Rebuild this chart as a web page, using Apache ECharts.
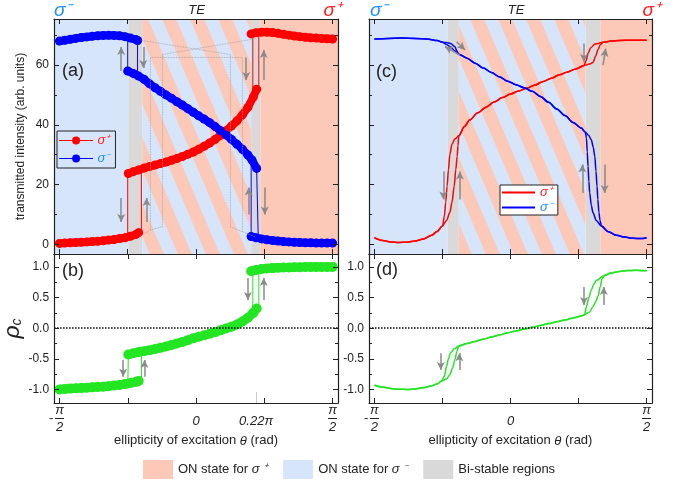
<!DOCTYPE html>
<html><head><meta charset="utf-8">
<script src="https://cdn.jsdelivr.net/npm/echarts@6/dist/echarts.min.js"></script>
<style>html,body{margin:0;padding:0;background:#fff}#c{width:693px;height:482px}</style>
</head><body><div id="c"></div>
<script>
// ---------- data (x in units of pi: theta/pi) ----------
// panel (a): transmitted intensity, measured dots
const aRedLow = [[-0.50,0.3],[-0.48,0.4],[-0.46,0.5],[-0.44,0.6],[-0.42,0.7],[-0.40,0.8],[-0.38,0.9],[-0.36,1.0],[-0.34,1.2],[-0.32,1.4],[-0.30,1.6],[-0.28,1.9],[-0.26,2.2],[-0.24,2.7],[-0.22,3.3],[-0.21,3.9]];
const aRedMid = [[-0.248,23.7],[-0.23,24.3],[-0.21,24.9],[-0.19,25.5],[-0.17,26.0],[-0.15,26.5],[-0.13,27.0],[-0.11,27.5],[-0.09,28.1],[-0.07,28.7],[-0.05,29.4],[-0.03,30.1],[-0.01,30.9],[0.01,31.8],[0.03,32.8],[0.05,33.9],[0.07,35.1],[0.09,36.5],[0.11,38.0],[0.13,39.6],[0.15,41.3],[0.17,43.3],[0.19,45.8],[0.21,49.3],[0.222,51.9]];
const aRedTop = [[0.202,70.4],[0.22,70.8],[0.24,71.0],[0.26,71.0],[0.28,70.9],[0.30,70.6],[0.32,70.3],[0.34,70.0],[0.36,69.7],[0.38,69.5],[0.40,69.3],[0.42,69.1],[0.44,69.0],[0.46,68.9],[0.48,68.8],[0.50,68.7]];
const aBlueTop = [[-0.50,68.0],[-0.48,68.3],[-0.46,68.6],[-0.44,68.9],[-0.42,69.2],[-0.40,69.4],[-0.38,69.6],[-0.36,69.8],[-0.34,69.9],[-0.32,70.0],[-0.30,69.9],[-0.28,69.8],[-0.26,69.5],[-0.24,69.0],[-0.22,68.5],[-0.214,68.2]];
const aBlueMid = [[-0.25,58.0],[-0.23,57.2],[-0.21,56.3],[-0.19,55.2],[-0.17,53.7],[-0.15,52.4],[-0.13,51.2],[-0.11,50.0],[-0.09,48.9],[-0.07,47.7],[-0.05,46.6],[-0.03,45.4],[-0.01,44.2],[0.01,43.0],[0.03,41.9],[0.05,40.7],[0.07,39.4],[0.09,38.0],[0.11,36.6],[0.13,35.1],[0.15,33.5],[0.17,31.8],[0.19,29.9],[0.205,28.2],[0.222,25.4]];
const aBlueLow = [[0.202,2.6],[0.22,2.2],[0.24,1.8],[0.26,1.5],[0.28,1.3],[0.30,1.1],[0.32,0.9],[0.34,0.8],[0.36,0.7],[0.38,0.6],[0.40,0.5],[0.42,0.5],[0.44,0.4],[0.46,0.4],[0.48,0.4],[0.50,0.4]];
const aRedJumps = [[[-0.25,2.4],[-0.25,23.7]],[[-0.2,3.9],[-0.2,25.2]],[[0.208,49.8],[0.208,70.5]],[[0.23,52.0],[0.23,71.0]]];
const aBlueJumps = [[[-0.25,58.0],[-0.25,69.3]],[[-0.214,68.2],[-0.214,56.5]],[[0.202,2.6],[0.202,28.0]],[[0.228,2.0],[0.222,25.4]]];
// panel (b): circular polarization degree, measured dots
const bLow = [[-0.50,-1.0],[-0.48,-0.99],[-0.46,-0.985],[-0.44,-0.98],[-0.42,-0.975],[-0.40,-0.97],[-0.38,-0.965],[-0.36,-0.96],[-0.34,-0.955],[-0.32,-0.945],[-0.30,-0.935],[-0.28,-0.925],[-0.26,-0.91],[-0.24,-0.895],[-0.22,-0.875],[-0.21,-0.86]];
const bMid = [[-0.248,-0.43],[-0.23,-0.41],[-0.21,-0.39],[-0.19,-0.375],[-0.17,-0.36],[-0.15,-0.34],[-0.13,-0.32],[-0.11,-0.30],[-0.09,-0.275],[-0.07,-0.25],[-0.05,-0.225],[-0.03,-0.195],[-0.01,-0.165],[0.01,-0.14],[0.03,-0.115],[0.05,-0.09],[0.07,-0.065],[0.09,-0.035],[0.11,-0.005],[0.13,0.025],[0.15,0.06],[0.17,0.11],[0.19,0.17],[0.21,0.25],[0.222,0.32]];
const bTop = [[0.202,0.93],[0.22,0.95],[0.24,0.965],[0.26,0.975],[0.28,0.98],[0.30,0.985],[0.32,0.99],[0.34,0.99],[0.36,0.995],[0.38,0.995],[0.40,1.0],[0.42,1.0],[0.44,1.0],[0.46,1.0],[0.48,1.0],[0.50,1.0]];
const bJumps = [[[-0.25,-0.93],[-0.248,-0.43]],[[-0.2,-0.86],[-0.2,-0.38]],[[0.208,0.25],[0.208,0.93]],[[0.23,0.32],[0.23,0.95]]];
// panel (c): calculated intensity curves
const cRedL = [[-0.50,2.2],[-0.47,1.3],[-0.44,0.8],[-0.41,0.6],[-0.38,0.7],[-0.35,1.1],[-0.32,1.8],[-0.29,3.0],[-0.27,4.3],[-0.25,6.1]];
const cRedBiLEarly = [[-0.243,9.5],[-0.238,14],[-0.233,19.4],[-0.228,25],[-0.223,30],[-0.215,33.5],[-0.205,35.2]];
const cRedBiLLate = [[-0.235,8],[-0.223,10.6],[-0.215,14],[-0.207,19.4],[-0.201,25],[-0.196,29.4],[-0.193,33]];
const cRedMid = [[-0.19,36.3],[-0.17,39.3],[-0.15,41.6],[-0.12,44.0],[-0.09,45.9],[-0.06,47.6],[-0.03,49.1],[0.00,50.3],[0.03,51.3],[0.06,52.2],[0.09,53.3],[0.12,54.5],[0.15,55.6],[0.18,56.7],[0.21,57.7],[0.24,58.7],[0.27,59.8]];
const cRedBiREarly = [[0.278,61.5],[0.285,63.9],[0.295,65.8],[0.31,67.0]];
const cRedBiRLate = [[0.29,60.3],[0.303,60.8],[0.313,63.0],[0.322,65.3],[0.33,66.8]];
const cRedR = [[0.34,67.6],[0.37,68.0],[0.40,68.2],[0.45,68.3],[0.50,68.3]];
const cBlueL = [[-0.50,68.7],[-0.45,68.9],[-0.40,69.0],[-0.35,68.9],[-0.30,68.6],[-0.27,68.2],[-0.25,67.6]];
const cBlueBiLEarly = [[-0.235,66.9],[-0.22,66.0],[-0.205,64.8]];
const cBlueBiLLate = [[-0.235,67.5],[-0.22,67.2],[-0.205,66.2],[-0.196,64.6]];
const cBlueMid = [[-0.19,63.6],[-0.16,62.3],[-0.13,60.6],[-0.10,59.0],[-0.07,57.5],[-0.04,56.0],[-0.01,54.6],[0.02,53.4],[0.05,52.4],[0.08,51.2],[0.11,49.5],[0.14,47.5],[0.17,45.3],[0.20,43.1],[0.23,40.8],[0.26,38.9],[0.275,37.5]];
const cBlueBiREarly = [[0.279,35.5],[0.282,31],[0.285,26.1],[0.288,21],[0.291,17.2],[0.297,13],[0.303,10.6],[0.315,8]];
const cBlueBiRLate = [[0.287,36.5],[0.297,35],[0.304,32.5],[0.31,29.4],[0.314,24.5],[0.318,19.4],[0.321,15],[0.325,10.6],[0.329,8]];
const cBlueR = [[0.334,6.1],[0.36,4.2],[0.39,3.0],[0.42,2.4],[0.45,2.0],[0.48,1.9],[0.50,2.2]];
// panel (d): calculated polarization degree
const dGreenL = [[-0.50,-0.93],[-0.47,-0.96],[-0.44,-0.985],[-0.41,-0.995],[-0.38,-1.0],[-0.35,-0.99],[-0.32,-0.97],[-0.29,-0.94],[-0.27,-0.91],[-0.253,-0.86]];
const dGreenBiLEarly = [[-0.243,-0.78],[-0.235,-0.62],[-0.228,-0.5],[-0.22,-0.4],[-0.205,-0.33]];
const dGreenBiLLate = [[-0.235,-0.83],[-0.223,-0.76],[-0.213,-0.65],[-0.204,-0.51],[-0.197,-0.38]];
const dGreenMid = [[-0.19,-0.29],[-0.16,-0.25],[-0.13,-0.215],[-0.10,-0.18],[-0.07,-0.145],[-0.04,-0.11],[-0.01,-0.075],[0.02,-0.045],[0.05,-0.015],[0.08,0.015],[0.11,0.045],[0.14,0.075],[0.17,0.105],[0.20,0.135],[0.23,0.165],[0.26,0.2],[0.272,0.22]];
const dGreenBiREarly = [[0.279,0.35],[0.288,0.5],[0.297,0.62],[0.306,0.72],[0.316,0.78]];
const dGreenBiRLate = [[0.29,0.26],[0.303,0.35],[0.313,0.43],[0.322,0.53],[0.33,0.68],[0.336,0.8]];
const dGreenR = [[0.345,0.86],[0.37,0.9],[0.40,0.925],[0.43,0.94],[0.46,0.945],[0.50,0.935]];
// background regions (theta/pi)
const aBlueRegion = [[-0.52,-0.248]], aGrayRegions = [[-0.248,-0.197],[0.202,0.236]], aStripeRegion = [[-0.197,0.202]], aSalmonRegion = [[0.236,0.52]];
const cBlueRegion = [[-0.52,-0.231]], cGrayRegions = [[-0.231,-0.19],[0.276,0.331]], cStripeRegion = [[-0.19,0.276]], cSalmonRegion = [[0.331,0.52]];
// annotation arrows [from, to]
const aArrows = [[[-0.274,58],[-0.274,66]],[[-0.193,66],[-0.193,59]],[[-0.274,15.5],[-0.274,7.5]],[[-0.181,7.5],[-0.181,15.5]],[[0.184,62.5],[0.184,55]],[[0.248,55],[0.248,65]],[[0.193,10],[0.193,19]],[[0.252,19],[0.252,10]]];
const bArrows = [[[-0.267,-0.52],[-0.267,-0.79]],[[-0.189,-0.79],[-0.189,-0.52]],[[0.19,0.82],[0.19,0.46]],[[0.248,0.46],[0.248,0.82]]];
const cArrows = [[[-0.186,63.3],[-0.241,66.2]],[[-0.198,67.8],[-0.167,65]],[[0.27,67.2],[0.27,61]],[[0.34,60],[0.35,65.5]],[[-0.247,24.4],[-0.247,15]],[[-0.186,15],[-0.186,24.4]],[[0.264,17.2],[0.264,26.7]],[[0.346,26.7],[0.346,17.2]]];
const dArrows = [[[-0.256,-0.41],[-0.256,-0.68]],[[-0.188,-0.68],[-0.188,-0.41]],[[0.27,0.67],[0.27,0.38]],[[0.343,0.38],[0.343,0.67]]];
// dotted guide lines in (a)
const aGuides = [[[-0.167,4.8],[-0.167,62.5]],[[-0.124,5.9],[-0.124,63.5]],[[0.126,5.9],[0.126,63.5]],[[0.169,4.2],[0.169,62.5]],
  [[-0.203,2.8],[-0.167,4.8]],[[-0.167,4.8],[-0.124,5.9]],[[0.126,5.9],[0.169,4.2]],[[0.169,4.2],[0.218,2.5]],
  [[-0.203,68.3],[0.126,63.5]],[[-0.167,62.5],[0.169,62.5]],[[-0.124,63.5],[0.218,68.8]]];
// axis ticks / labels
const xTicks = [-0.5,-0.25,0,0.25,0.5];
const bXLabels = [-0.5,0,0.22,0.5], dXLabels = [-0.5,0,0.5];
const intMajor = [0,20,40,60], intMinor = [10,30,50,70];
const rhoMajor = [-1,-0.5,0,0.5,1], rhoMinor = [-0.75,-0.25,0.25,0.75];
const intRange = [-3.25,75.4], rhoRange = [-1.22,1.21];

// ---------- styling ----------
const FONT = 'Liberation Sans, Arial, Helvetica, sans-serif';
const INK = '#222';
const SALMON = '#fcc8b8', LBLUE = '#d7e5fb', GRAY = '#d9d9d9';
const RED = '#ff0000', BLUE = '#0000ff', GREEN = '#22e622', ARROW = '#8a8a8a';
const SIGP = '#ff2020', SIGM = '#1e90ff';

const pat = document.createElement('canvas');
pat.width = 28; pat.height = 66;
(function(){const g = pat.getContext('2d'); g.fillStyle = SALMON; g.fillRect(0,0,28,66); g.fillStyle = LBLUE;
  for (let k=-2;k<=1;k++){ g.beginPath(); g.moveTo(k*28,0); g.lineTo(k*28+14,0); g.lineTo(k*28+42,66); g.lineTo(k*28+28,66); g.closePath(); g.fill(); }})();
const STRIPES = {image: pat, repeat: 'repeat'};

const grids = [
  {left:54, top:19, width:284, height:235},
  {left:54, top:254, width:284, height:149},
  {left:369, top:19, width:283, height:235},
  {left:369, top:254, width:283, height:149}
];

const xRich = {
  n:{fontSize:13, fontStyle:'italic', fontFamily:FONT, color:INK, lineHeight:12, width:9, align:'center'},
  bar:{width:9, height:1, lineHeight:5, backgroundColor:INK, fontSize:5},
  m:{fontSize:13, fontFamily:FONT, color:INK, lineHeight:5, width:6, align:'left'},
  sp:{width:6, lineHeight:5, fontSize:5},
  z:{fontSize:13, fontStyle:'italic', fontFamily:FONT, color:INK, lineHeight:34}
};
function xFmt(v){
  if (v < -0.4) return '{sp| }{n|π}{sp| }\n{m|-}{bar| }{sp| }\n{sp| }{n|2}{sp| }';
  if (v > 0.4) return '{n|π}\n{bar| }\n{n|2}';
  if (Math.abs(v) < 1e-9) return '{z|0}';
  return '{z|' + v + 'π}';
}
const lineAx = {show:true, onZero:false, lineStyle:{color:INK, width:1.2}};
const noLine = {show:false, onZero:false};
function xAxis(g, pos, labels){
  const ax = {type:'value', gridIndex:g, position:pos, min:-0.52, max:0.52, z:10, axisLine:lineAx,
    axisTick:{show:true, inside:true, length:5, customValues:xTicks, lineStyle:{color:INK}},
    splitLine:{show:false}, axisLabel:{show:false}};
  if (labels){
    ax.axisLabel = {show:true, customValues:labels, margin:1, formatter:xFmt, rich:xRich};
    ax.name = 'ellipticity of excitation {i|θ} (rad)';
    ax.nameLocation = 'middle'; ax.nameGap = 30;
    ax.nameTextStyle = {fontSize:13, color:INK, fontFamily:FONT, rich:{i:{fontSize:13, fontStyle:'italic', fontFamily:FONT, color:INK}}};
  }
  return ax;
}
function yAxes(g, range, major, minor, fmt, nameOpt){
  const base = {type:'value', gridIndex:g, min:range[0], max:range[1], z:10, splitLine:{show:false}};
  const tk = (vals,len)=>({show:true, inside:true, length:len, customValues:vals, lineStyle:{color:INK}});
  const main = Object.assign({}, base, {position:'left', axisLine:lineAx, axisTick:tk(major,5),
    axisLabel: fmt ? {show:true, customValues:major, formatter:fmt, margin:5, color:INK, fontSize:12, fontFamily:FONT} : {show:false}}, nameOpt||{});
  return [main,
    Object.assign({}, base, {position:'left', axisLine:noLine, axisTick:tk(minor,3), axisLabel:{show:false}}),
    Object.assign({}, base, {position:'right', axisLine:lineAx, axisTick:tk(major,5), axisLabel:{show:false}}),
    Object.assign({}, base, {position:'right', axisLine:noLine, axisTick:tk(minor,3), axisLabel:{show:false}})];
}
const xAxes = [xAxis(0,'bottom'), xAxis(0,'top'), xAxis(1,'bottom',bXLabels), xAxis(1,'top'),
               xAxis(2,'bottom'), xAxis(2,'top'), xAxis(3,'bottom',dXLabels), xAxis(3,'top')];
const yAxesAll = [].concat(
  yAxes(0, intRange, intMajor, intMinor, v=>String(v), {name:'transmitted intensity (arb. units)', nameLocation:'middle', nameGap:27, nameTextStyle:{fontSize:12, color:INK, fontFamily:FONT}}),
  yAxes(1, rhoRange, rhoMajor, rhoMinor, v=>v.toFixed(1), {name:'{r|ρ}{c|c}', nameLocation:'middle', nameGap:22, nameTextStyle:{rich:{r:{fontSize:23, fontStyle:'italic', fontFamily:FONT, color:INK, lineHeight:24}, c:{fontSize:14, fontStyle:'italic', fontFamily:FONT, color:INK, lineHeight:14, verticalAlign:'bottom'}}}}),
  yAxes(2, intRange, intMajor, intMinor, null),
  yAxes(3, rhoRange, rhoMajor, rhoMinor, v=>v.toFixed(1))
);

function ax(g){ return {xAxisIndex:2*g, yAxisIndex:4*g}; }
function bgSeries(g, name, color, ranges){
  return Object.assign({type:'line', name:name, data:[[0,0]], symbol:'none', lineStyle:{opacity:0}, silent:true, z:1,
    markArea:{silent:true, label:{show:false}, itemStyle:{color:color}, data:ranges.map(r=>[{xAxis:r[0]},{xAxis:r[1]}])}}, ax(g));
}
function markSeries(g, segs, style, sym){
  return Object.assign({type:'line', name:'_m', data:[[0,0]], symbol:'none', lineStyle:{opacity:0}, silent:true, z:4,
    markLine:{silent:true, symbol:sym||['none','none'], symbolSize:[6,8], label:{show:false}, lineStyle:style, animation:false,
      data:segs.map(s=>[{coord:s[0]},{coord:s[1]}])}}, ax(g));
}
function dotSeries(g, name, data, color, size){
  return Object.assign({type:'line', name:name, data:data, symbol:'circle', symbolSize:size, showSymbol:true, showAllSymbol:true,
    itemStyle:{color:color}, lineStyle:{color:color, width:size-1, cap:'round', join:'round'}, z:3, silent:true}, ax(g));
}
function jumpSeries(g, segs, color){
  return segs.map(s=>Object.assign({type:'line', name:'_j', data:s, symbol:'none', lineStyle:{color:color, width:1}, z:3, silent:true}, ax(g)));
}
function curve(g, name, data, color){
  return Object.assign({type:'line', name:name, data:data, symbol:'none', smooth:0.3, smoothMonotone:'x',
    lineStyle:{color:color, width:1.5}, itemStyle:{color:color}, z:3, silent:true}, ax(g));
}
const zeroLine = g => Object.assign({type:'line', name:'_z', data:[[0,0]], symbol:'none', lineStyle:{opacity:0}, silent:true, z:2,
  markLine:{silent:true, symbol:['none','none'], label:{show:false}, lineStyle:{type:'dotted', color:'#000', width:1.5}, data:[{yAxis:0}]}}, ax(g));

const arrowStyle = {color:ARROW, width:1.5, type:'solid'};
const series = [].concat(
  // (a)
  bgSeries(0,'ON state for σ⁻',LBLUE,aBlueRegion), bgSeries(0,'Bi-stable regions',GRAY,aGrayRegions),
  bgSeries(0,'_s',STRIPES,aStripeRegion), bgSeries(0,'ON state for σ⁺',SALMON,aSalmonRegion),
  markSeries(0, aGuides, {color:'#a0a0a0', width:0.8, type:'dotted'}),
  jumpSeries(0,aRedJumps,RED), jumpSeries(0,aBlueJumps,BLUE),
  dotSeries(0,'aRed',aRedLow,RED,9), dotSeries(0,'aRed',aRedMid,RED,9), dotSeries(0,'aRed',aRedTop,RED,9),
  dotSeries(0,'aBlue',aBlueTop,BLUE,9), dotSeries(0,'aBlue',aBlueMid,BLUE,9), dotSeries(0,'aBlue',aBlueLow,BLUE,9),
  markSeries(0, aArrows, arrowStyle, ['none','arrow']),
  // (b)
  zeroLine(1),
  markSeries(1, [[[0.22,-1.05],[0.22,-1.22]]], {color:'#999', width:1, type:'dotted'}),
  jumpSeries(1,bJumps,GREEN),
  dotSeries(1,'bG',bLow,GREEN,10), dotSeries(1,'bG',bMid,GREEN,10), dotSeries(1,'bG',bTop,GREEN,10),
  markSeries(1, bArrows, arrowStyle, ['none','arrow']),
  // (c)
  bgSeries(2,'ON state for σ⁻',LBLUE,cBlueRegion), bgSeries(2,'Bi-stable regions',GRAY,cGrayRegions),
  bgSeries(2,'_s',STRIPES,cStripeRegion), bgSeries(2,'ON state for σ⁺',SALMON,cSalmonRegion),
  curve(2,'cRed',[].concat(cRedL,cRedBiLLate,cRedMid,cRedBiRLate,cRedR),RED),
  curve(2,'cRed',[].concat(cRedL,cRedBiLEarly,cRedMid,cRedBiREarly,cRedR),RED),
  curve(2,'cBlue',[].concat(cBlueL,cBlueBiLLate,cBlueMid,cBlueBiRLate,cBlueR),BLUE),
  curve(2,'cBlue',[].concat(cBlueL,cBlueBiLEarly,cBlueMid,cBlueBiREarly,cBlueR),BLUE),
  markSeries(2, cArrows, arrowStyle, ['none','arrow']),
  // (d)
  zeroLine(3),
  curve(3,'dG',[].concat(dGreenL,dGreenBiLLate,dGreenMid,dGreenBiRLate,dGreenR),GREEN),
  curve(3,'dG',[].concat(dGreenL,dGreenBiLEarly,dGreenMid,dGreenBiREarly,dGreenR),GREEN),
  markSeries(3, dArrows, arrowStyle, ['none','arrow'])
);

const legendText = {fontFamily:FONT, fontSize:13, fontStyle:'italic'};
const legends = [
  {left:57, top:131, orient:'vertical', selectedMode:false, itemWidth:33, itemHeight:10, itemGap:5, padding:[3,6,3,2],
   borderColor:INK, borderWidth:1, textStyle:legendText, lineStyle:{width:1.2},
   data:[{name:'aRed', textStyle:{color:SIGP}}, {name:'aBlue', textStyle:{color:SIGM}}],
   formatter:n=>n==='aRed'?'σ⁺':'σ⁻'},
  {left:500, top:185, orient:'vertical', selectedMode:false, itemWidth:33, itemHeight:2, itemGap:0, padding:[0,6,0,2],
   borderColor:INK, borderWidth:1, backgroundColor:'#fff', textStyle:Object.assign({lineHeight:15}, legendText),
   data:[{name:'cRed', icon:'rect', itemStyle:{color:RED}, textStyle:{color:SIGP}}, {name:'cBlue', icon:'rect', itemStyle:{color:BLUE}, textStyle:{color:SIGM}}],
   formatter:n=>n==='cRed'?'σ⁺':'σ⁻'},
  {left:143, top:460, orient:'horizontal', selectedMode:false, itemWidth:30, itemHeight:19, itemGap:16, padding:0,
   textStyle:{fontFamily:FONT, fontSize:13, color:INK, rich:{i:{fontFamily:FONT, fontSize:13, fontStyle:'italic', color:INK}}},
   data:[{name:'ON state for σ⁺', icon:'rect', itemStyle:{color:SALMON, borderWidth:0}},
         {name:'ON state for σ⁻', icon:'rect', itemStyle:{color:LBLUE, borderWidth:0}},
         {name:'Bi-stable regions', icon:'rect', itemStyle:{color:GRAY, borderWidth:0}}],
   formatter:n=>n.replace('σ⁺','{i|σ ⁺}').replace('σ⁻','{i|σ ⁻}')}
];

function txt(x, y, text, font, fill, align){
  return {type:'text', z:20, silent:true, style:{x:x, y:y, text:text, font:font, fill:fill, textAlign:align||'left', textVerticalAlign:'middle'}};
}
const graphics = [
  txt(54, 11, 'σ⁻', 'italic 19px '+FONT, SIGM), txt(196.5, 10, 'TE', 'italic 13px '+FONT, INK, 'center'), txt(341, 11, 'σ⁺', 'italic 19px '+FONT, SIGP, 'right'),
  txt(370, 11, 'σ⁻', 'italic 19px '+FONT, SIGM), txt(516, 10, 'TE', 'italic 13px '+FONT, INK, 'center'), txt(660, 11, 'σ⁺', 'italic 19px '+FONT, SIGP, 'right'),
  txt(62, 71, '(a)', '18px '+FONT, INK), txt(62, 271, '(b)', '18px '+FONT, INK),
  txt(376, 72, '(c)', '18px '+FONT, INK), txt(376, 270, '(d)', '18px '+FONT, INK)
];

const chart = echarts.init(document.getElementById('c'));
chart.setOption({
  animation:false, backgroundColor:'#fff',
  textStyle:{fontFamily:FONT},
  grid:grids, xAxis:xAxes, yAxis:yAxesAll, series:series, legend:legends, graphic:graphics
});
</script></body></html>
